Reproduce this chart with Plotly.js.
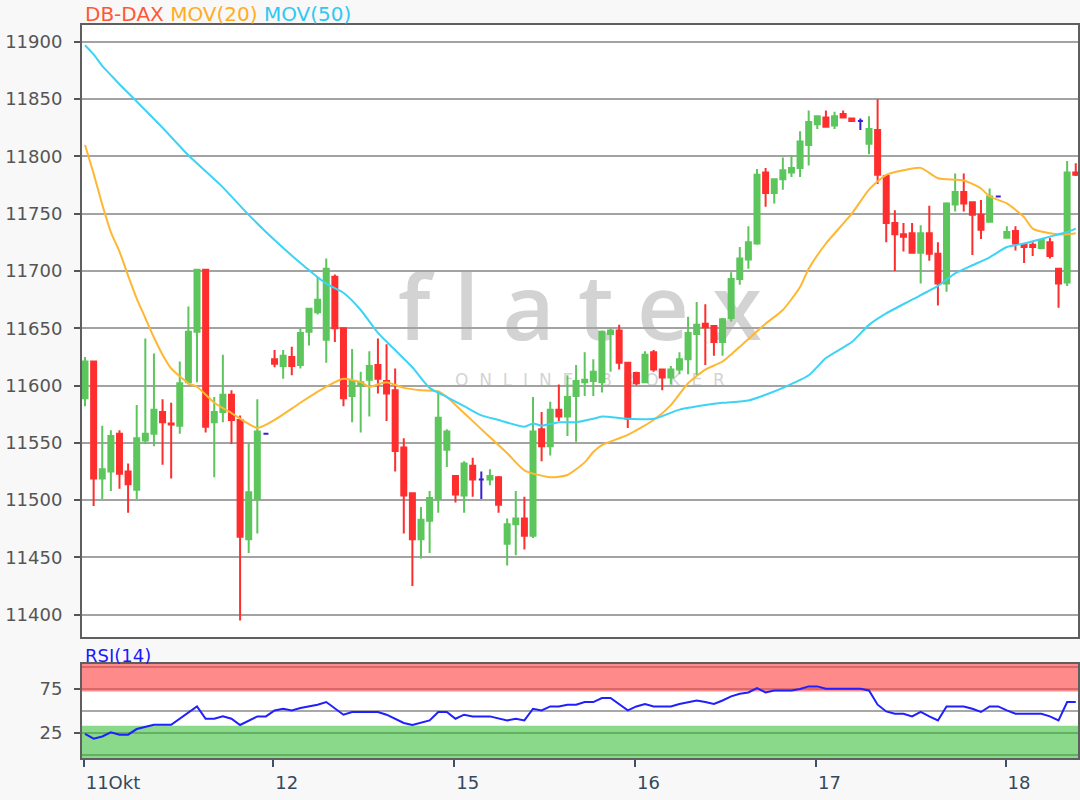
<!DOCTYPE html>
<html><head><meta charset="utf-8">
<script src="https://cdn.plot.ly/plotly-3.0.1.min.js"></script>
<style>html,body{margin:0;padding:0;background:#f8f8f8;}#chart{width:1080px;height:800px;}</style>
</head><body><div id="chart"></div>
<script>
// ---- Data ----
const dayLabels = ['11Okt', '12', '15', '16', '17', '18'];
const dayStartIdx = [0, 22, 43, 64, 85, 107];

const openP = [11589,11621,11519,11525,11558,11525,11509,11552,11558,11577,
  11567,11565,11603,11647,11701,11568,11577,11592,11570,11466,
  11501,11558,11623,11617,11625,11618,11647,11664,11640,11695,
  11650,11591,11600,11605,11618,11604,11596,11546,11506,11466,
  11482,11501,11544,11521,11504,11530,11518,11518,11520,11462,
  11479,11484,11469,11562,11547,11579,11573,11591,11603,11604,
  11603,11645,11648,11620,11611,11603,11629,11614,11607,11614,
  11623,11645,11654,11652,11638,11659,11693,11710,11724,11786,
  11768,11780,11786,11790,11810,11828,11834,11827,11837,11833,
  11831,11811,11823,11783,11742,11732,11733,11716,11733,11715,
  11689,11758,11769,11760,11749,11743,11765,11729,11735,11723,
  11723,11720,11725,11702,11690,11786];
const highP = [11625,11622,11565,11561,11561,11532,11583,11641,11628,11588,
  11585,11621,11669,11701,11701,11590,11627,11596,11574,11550,
  11588,11558,11631,11631,11634,11650,11668,11695,11711,11697,
  11650,11632,11612,11630,11641,11636,11615,11554,11507,11494,
  11508,11595,11562,11522,11534,11537,11525,11527,11521,11484,
  11508,11503,11590,11577,11586,11601,11609,11618,11629,11623,
  11648,11650,11653,11620,11612,11630,11631,11615,11617,11629,
  11660,11673,11671,11652,11659,11699,11721,11739,11789,11790,
  11781,11799,11801,11822,11840,11835,11840,11839,11840,11833,
  11833,11835,11850,11783,11753,11742,11742,11740,11757,11725,
  11760,11785,11785,11760,11762,11772,11765,11739,11739,11723,
  11725,11727,11729,11702,11796,11794];
const lowP = [11582,11495,11501,11508,11510,11489,11501,11549,11547,11531,
  11519,11558,11601,11603,11559,11520,11568,11549,11395,11454,
  11471,11558,11616,11606,11609,11615,11635,11662,11620,11638,
  11582,11568,11559,11573,11593,11569,11525,11471,11425,11449,
  11454,11489,11529,11498,11489,11503,11501,11513,11489,11443,
  11452,11457,11467,11534,11539,11569,11556,11551,11591,11591,
  11594,11612,11614,11563,11600,11602,11612,11596,11601,11610,
  11610,11609,11618,11626,11626,11656,11688,11702,11723,11756,
  11759,11771,11782,11782,11792,11824,11825,11824,11833,11830,
  11823,11802,11776,11725,11700,11717,11716,11689,11709,11670,
  11682,11752,11752,11714,11728,11743,11765,11729,11718,11707,
  11713,11719,11711,11668,11687,11783];
const closeP = [11621,11519,11527,11556,11523,11514,11554,11558,11579,11568,
  11566,11602,11647,11701,11564,11577,11592,11570,11468,11507,
  11560,11558,11619,11626,11617,11646,11667,11675,11702,11650,
  11589,11604,11603,11617,11606,11593,11543,11504,11466,11483,
  11502,11572,11560,11505,11532,11518,11518,11521,11496,11479,
  11484,11469,11560,11547,11579,11573,11590,11604,11605,11612,
  11647,11648,11620,11571,11602,11627,11614,11607,11614,11623,
  11646,11653,11651,11638,11658,11693,11711,11725,11784,11768,
  11780,11788,11790,11813,11830,11835,11826,11835,11834,11831,
  11831,11824,11784,11742,11732,11730,11716,11733,11715,11689,
  11759,11769,11759,11749,11736,11765,11765,11734,11724,11721,
  11721,11727,11713,11689,11786,11784];

const ma20Idx = [0,1,2,3,4,5,6,7,8,9,10,12,13,15,17,20,22,25,28,30,32,33,35,37,39,41,42,44,47,49,51,54,56,58,59,60,63,66,68,70,72,74,76,79,81,83,84,86,89,91,93,95,97,99,102,104,105,107,109,110,112,114,115];
const ma20Val = [11810,11785,11758,11734,11717,11696,11676,11659,11642,11627,11615,11602,11599,11585,11576,11563,11570,11585,11599,11606,11603,11599,11603,11598,11596,11595,11590,11576,11555,11541,11526,11520,11522,11533,11542,11548,11557,11570,11583,11602,11614,11621,11634,11654,11666,11686,11702,11724,11750,11771,11784,11788,11790,11781,11779,11772,11765,11759,11747,11737,11733,11732,11733];

const ma50Idx = [0,1,2,3,4,6,9,12,16,19,22,25,28,30,32,34,36,38,40,42,44,46,48,51,52,53,55,57,59,60,63,66,69,72,74,77,79,81,84,86,89,91,93,96,99,101,103,105,107,109,112,114,115];
const ma50Val = [11897,11889,11879,11871,11863,11848,11825,11801,11773,11749,11727,11707,11689,11681,11666,11646,11631,11616,11598,11590,11582,11574,11570,11564,11567,11565,11568,11568,11571,11573,11571,11571,11579,11583,11585,11587,11592,11598,11609,11624,11638,11653,11663,11675,11687,11698,11705,11712,11721,11724,11730,11734,11737];

const rsiIdx = [0,1,2,3,4,5,6,7,8,10,13,14,15,16,17,18,20,21,22,23,24,25,26,27,28,30,31,34,35,37,38,40,41,42,43,44,45,47,49,50,51,52,53,54,55,56,57,58,59,60,61,63,64,65,66,68,69,70,71,72,73,74,75,76,77,78,79,80,82,83,84,85,86,90,91,92,93,94,95,96,97,98,99,100,102,103,104,105,106,107,108,111,112,113,114,115];
const rsiVal = [23.9,18.5,21.1,25.7,23.1,23.1,29.5,31.8,34.4,34.4,55.2,41.2,41.2,43.9,41.2,34.1,43.9,43.9,50.7,52.6,50.7,53.4,55.2,57.2,60.2,45.8,48.9,48.9,45.8,36.4,34.1,39.3,48.9,48.9,41.2,45.8,43.9,43.9,39.3,41.2,39.3,52.6,50.7,55.2,55.2,57.2,57.2,60.2,60.2,64.8,64.8,50.7,55.2,58,55.2,55.2,58,60.2,62,60.2,58,62,66.6,69.7,71.1,76.1,71.1,73.4,73.4,75,78,78,75.3,75.3,73.4,57.2,49.5,46.9,46.9,43.9,48.9,43.9,39.3,55.2,55.2,52.6,48.9,55.2,55.2,50.7,46.9,46.9,43.9,39.3,60.2,60.2];

const priceTicks = [11400,11450,11500,11550,11600,11650,11700,11750,11800,11850,11900];
const rsiTicks = [25, 75];

// ---- Build traces ----
const idx = openP.map((_, i) => i);
const isDoji = idx.map(i => openP[i] === closeP[i]);
const pick = (arr, want) => idx.filter(i => isDoji[i] === want).map(i => arr[i]);

const GREEN = '#5cc65c', RED = '#ff2e2e', BLUE = '#3a1fd0';
const FONT = 'DejaVu Sans';

const traces = [
  {type:'candlestick', xaxis:'x', yaxis:'y',
   x: pick(idx,false), open: pick(openP,false), high: pick(highP,false), low: pick(lowP,false), close: pick(closeP,false),
   increasing:{line:{color:GREEN,width:2}, fillcolor:GREEN},
   decreasing:{line:{color:RED,width:2}, fillcolor:RED},
   whiskerwidth:0, hoverinfo:'skip'},
  {type:'candlestick', xaxis:'x', yaxis:'y',
   x: pick(idx,true), open: pick(openP,true), high: pick(highP,true), low: pick(lowP,true), close: pick(closeP,true),
   increasing:{line:{color:BLUE,width:2}, fillcolor:BLUE},
   decreasing:{line:{color:BLUE,width:2}, fillcolor:BLUE},
   whiskerwidth:0, hoverinfo:'skip'},
  {type:'scatter', mode:'lines', xaxis:'x', yaxis:'y', x: ma20Idx, y: ma20Val,
   line:{color:'#ffb733', width:2, shape:'spline', smoothing:0.6}, hoverinfo:'skip'},
  {type:'scatter', mode:'lines', xaxis:'x', yaxis:'y', x: ma50Idx, y: ma50Val,
   line:{color:'#3dd3f5', width:2, shape:'spline', smoothing:0.6}, hoverinfo:'skip'},
  {type:'scatter', mode:'lines', xaxis:'x2', yaxis:'y2', x: rsiIdx, y: rsiVal,
   line:{color:'#1f1fff', width:2}, hoverinfo:'skip'}
];

const xRange = [-0.35, 115.26];
const frame = {showline:true, mirror:true, linecolor:'#5f5f5f', linewidth:2, zeroline:false};

const hline = (y, color) => ({type:'line', xref:'x2 domain', yref:'y2', x0:0, x1:1, y0:y, y1:y,
  line:{color:color, width:2}, layer:'below'});

const layout = {
  width:1080, height:800,
  margin:{l:82, r:2, t:25, b:42},
  paper_bgcolor:'#f8f8f8', plot_bgcolor:'#ffffff',
  showlegend:false, boxgap:0.42, boxgroupgap:0,
  xaxis: Object.assign({anchor:'y', domain:[0,1], range:xRange, showticklabels:false, ticks:'',
    showgrid:false, rangeslider:{visible:false}, fixedrange:true}, frame),
  xaxis2: Object.assign({anchor:'y2', domain:[0,1], matches:'x', range:xRange,
    tickmode:'array', tickvals: dayStartIdx.map(v => v - 0.15), ticktext: dayLabels,
    ticks:'outside', ticklen:7, tickwidth:2, tickcolor:'#3d5068',
    ticklabelposition:'outside right', ticklabelstandoff:7,
    tickfont:{family:FONT, size:18, color:'#34495e'}, showgrid:false,
    rangeslider:{visible:false}}, frame),
  yaxis: Object.assign({anchor:'x', domain:[0.1651,1], range:[11380.6,11914.7],
    tickmode:'array', tickvals: priceTicks, ticktext: priceTicks.map(String),
    ticks:'outside', ticklen:6, tickwidth:2, tickcolor:'#555555', ticklabelstandoff:8,
    tickfont:{family:FONT, size:18, color:'#555555'},
    showgrid:true, gridcolor:'#a3a3a3', gridwidth:2}, frame),
  yaxis2: Object.assign({anchor:'x2', domain:[0,0.1282], range:[-3.4,103.4],
    tickmode:'array', tickvals: rsiTicks, ticktext: rsiTicks.map(String),
    ticks:'outside', ticklen:6, tickwidth:2, tickcolor:'#555555', ticklabelstandoff:8,
    tickfont:{family:FONT, size:18, color:'#555555'}, showgrid:false}, frame),
  shapes: [
    {type:'rect', xref:'x2 domain', yref:'y2', x0:0, x1:1, y0:72.3, y1:103.4,
     fillcolor:'#ff8a8a', line:{width:0}, layer:'below'},
    {type:'rect', xref:'x2 domain', yref:'y2', x0:0, x1:1, y0:-3.4, y1:33.3,
     fillcolor:'#8ad88a', line:{width:0}, layer:'below'},
    hline(100, '#d9686b'), hline(75, '#d9686b'), hline(50, '#a8a8a8'),
    hline(25, '#62b062'), hline(0, '#62b062'),
    {type:'rect', xref:'paper', yref:'paper', x0:0.28, x1:0.72, y0:0.55, y1:0.67,
     fillcolor:'rgba(0,0,0,0)', line:{width:0}, layer:'below',
     label:{text:'f l a t e x', textposition:'middle center',
       font:{family:'Open Sans', size:90, weight:600, color:'#d3d3d3'}}},
    {type:'rect', xref:'paper', yref:'paper', x0:0.3, x1:0.72, y0:0.50, y1:0.535,
     fillcolor:'rgba(0,0,0,0)', line:{width:0}, layer:'below',
     label:{text:'O\u00a0\u00a0N\u00a0\u00a0L\u00a0\u00a0I\u00a0\u00a0N\u00a0\u00a0E\u00a0\u00a0\u00a0\u00a0\u00a0B\u00a0\u00a0R\u00a0\u00a0O\u00a0\u00a0K\u00a0\u00a0E\u00a0\u00a0R',
       textposition:'middle center', font:{family:FONT, size:17, color:'#d4d4d4'}}}
  ],
  annotations: [
    {xref:'paper', yref:'paper', x:0.001, y:1.015, xanchor:'left', yanchor:'middle', showarrow:false,
     text:'<span style="color:#ff5733">DB-DAX</span> <span style="color:#ffad1f">MOV(20)</span> <span style="color:#2fc8f2">MOV(50)</span>',
     font:{family:FONT, size:20}},
    {xref:'paper', yref:'paper', x:0.001, y:0.1405, xanchor:'left', yanchor:'middle', showarrow:false,
     text:'RSI(14)', font:{family:FONT, size:18, color:'#1a1aff'}}
  ]
};

Plotly.newPlot('chart', traces, layout, {displayModeBar:false, staticPlot:true});
</script>
</body></html>
